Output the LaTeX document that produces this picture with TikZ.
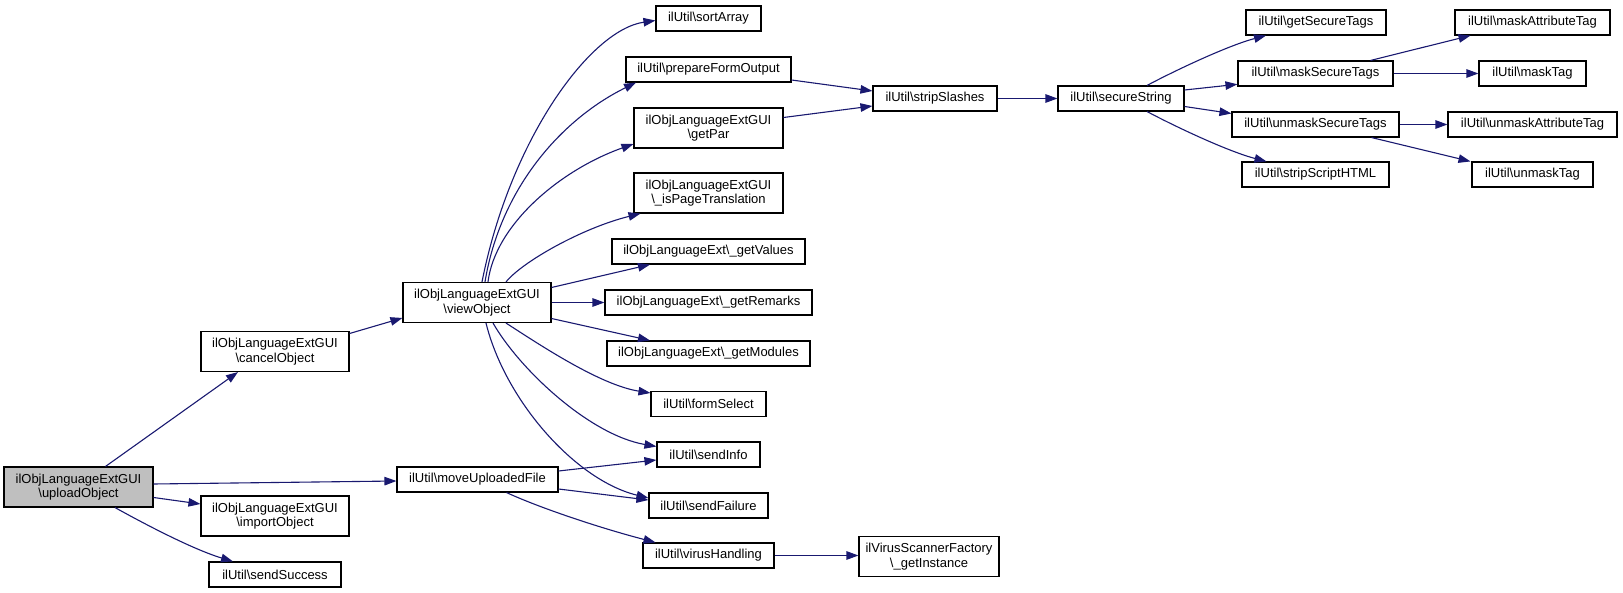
\documentclass[tikz,border=0pt]{standalone}
\usepackage{fontspec}
\setmainfont{Liberation Sans}
\usetikzlibrary{arrows.meta}
\definecolor{edgeblue}{HTML}{191970}
\definecolor{rootgray}{HTML}{BFBFBF}
\tikzset{
  fn/.style={draw=black, line width=1.1pt, fill=white, inner sep=0pt, align=center,
    font=\fontsize{13pt}{14.5pt}\selectfont, anchor=center},
  edge/.style={draw=edgeblue, line width=1.1pt, -{Triangle[length=12pt,width=8.5pt]}},
}
\newcommand{\bs}{\textbackslash}
\begin{document}
\begin{tikzpicture}[x=1pt,y=-1pt]
\useasboundingbox (0,0) rectangle (1623,593);
% nodes
\node[fn, fill=rootgray, minimum width=149pt, minimum height=40pt] (upload) at (78.5,487) {ilObjLanguageExtGUI\\\bs uploadObject};
\node[fn, minimum width=148pt, minimum height=40pt] (cancel) at (275,351.5) {ilObjLanguageExtGUI\\\bs cancelObject};
\node[fn, minimum width=148pt, minimum height=40pt] (view) at (477,302.5) {ilObjLanguageExtGUI\\\bs viewObject};
\node[fn, minimum width=161pt, minimum height=25pt] (move) at (477.5,479.5) {ilUtil\bs moveUploadedFile};
\node[fn, minimum width=148pt, minimum height=40pt] (import) at (275,516) {ilObjLanguageExtGUI\\\bs importObject};
\node[fn, minimum width=132pt, minimum height=25pt] (success) at (275,574.5) {ilUtil\bs sendSuccess};
\node[fn, minimum width=105pt, minimum height=25pt] (sort) at (708.5,18.5) {ilUtil\bs sortArray};
\node[fn, minimum width=165pt, minimum height=25pt] (prepare) at (708.5,69.5) {ilUtil\bs prepareFormOutput};
\node[fn, minimum width=149pt, minimum height=40pt] (getpar) at (708.5,128) {ilObjLanguageExtGUI\\\bs getPar};
\node[fn, minimum width=149pt, minimum height=40pt] (ispage) at (708.5,193) {ilObjLanguageExtGUI\\\bs \_isPageTranslation};
\node[fn, minimum width=193pt, minimum height=25pt] (values) at (708.5,251.5) {ilObjLanguageExt\bs \_getValues};
\node[fn, minimum width=207pt, minimum height=25pt] (remarks) at (708.5,302.5) {ilObjLanguageExt\bs \_getRemarks};
\node[fn, minimum width=203pt, minimum height=25pt] (modules) at (708.5,353.5) {ilObjLanguageExt\bs \_getModules};
\node[fn, minimum width=115pt, minimum height=25pt] (form) at (708.5,404) {ilUtil\bs formSelect};
\node[fn, minimum width=103pt, minimum height=25pt] (info) at (708.5,454.5) {ilUtil\bs sendInfo};
\node[fn, minimum width=119pt, minimum height=25pt] (failure) at (708.5,505.5) {ilUtil\bs sendFailure};
\node[fn, minimum width=131pt, minimum height=25pt] (virus) at (708.5,555.5) {ilUtil\bs virusHandling};
\node[fn, minimum width=140pt, minimum height=40pt] (instance) at (929,556.5) {ilVirusScannerFactory\\\bs \_getInstance};
\node[fn, minimum width=124pt, minimum height=25pt] (strip) at (935,98.5) {ilUtil\bs stripSlashes};
\node[fn, minimum width=126pt, minimum height=25pt] (secure) at (1121,98.5) {ilUtil\bs secureString};
\node[fn, minimum width=140pt, minimum height=25pt] (getsec) at (1316,22.5) {ilUtil\bs getSecureTags};
\node[fn, minimum width=155pt, minimum height=25pt] (masksec) at (1315.5,73.5) {ilUtil\bs maskSecureTags};
\node[fn, minimum width=167pt, minimum height=25pt] (unmasksec) at (1315.5,124.5) {ilUtil\bs unmaskSecureTags};
\node[fn, minimum width=147pt, minimum height=25pt] (script) at (1315.5,174.5) {ilUtil\bs stripScriptHTML};
\node[fn, minimum width=155pt, minimum height=25pt] (maskattr) at (1532.5,22.5) {ilUtil\bs maskAttributeTag};
\node[fn, minimum width=107pt, minimum height=25pt] (masktag) at (1532.5,73.5) {ilUtil\bs maskTag};
\node[fn, minimum width=169pt, minimum height=25pt] (unmaskattr) at (1532.5,124.5) {ilUtil\bs unmaskAttributeTag};
\node[fn, minimum width=121pt, minimum height=25pt] (unmasktag) at (1532.5,174.5) {ilUtil\bs unmaskTag};
% edges from uploadObject
\draw[edge] ([xshift=27pt]upload.north) -- ([xshift=-37pt]cancel.south);
\draw[edge] ([yshift=3pt]upload.east) -- ([yshift=-1.5pt]move.west);
\draw[edge] ([yshift=-10.5pt]upload.east) -- ([yshift=12pt]import.west);
\draw[edge] ([xshift=36.5pt]upload.south) .. controls (150,527) and (195,550) .. ([xshift=-42pt]success.north);
% cancel -> view
\draw[edge] ([yshift=18pt]cancel.east) -- ([yshift=-15.5pt]view.west);
% view -> ...
\draw[edge] ([xshift=5pt]view.north) .. controls (510,140) and (590,30) .. ([yshift=-2pt]sort.west);
\draw[edge] ([xshift=8pt]view.north) .. controls (500,190) and (560,120) .. ([xshift=-72.5pt]prepare.south);
\draw[edge] ([xshift=11pt]view.north) .. controls (495,225) and (560,170) .. ([yshift=-16pt]getpar.west);
\draw[edge] ([xshift=29pt]view.north) .. controls (522,262) and (582,228) .. ([xshift=-68pt]ispage.south);
\draw[edge] ([yshift=15pt]view.east) -- ([xshift=-58.5pt]values.south);
\draw[edge] (view.east) -- (remarks.west);
\draw[edge] ([yshift=-16pt]view.east) -- ([xshift=-58.5pt]modules.north);
\draw[edge] ([xshift=29pt]view.south) .. controls (540,345) and (600,385) .. ([yshift=11pt]form.west);
\draw[edge] ([xshift=16pt]view.south) .. controls (520,370) and (590,435) .. ([yshift=8pt]info.west);
\draw[edge] ([xshift=9pt]view.south) .. controls (505,400) and (575,480) .. ([yshift=7.5pt]failure.west);
% move -> ...
\draw[edge] ([yshift=8.5pt]move.east) -- ([yshift=-5.5pt]info.west);
\draw[edge] ([yshift=-9.5pt]move.east) -- ([yshift=5.5pt]failure.west);
\draw[edge] ([xshift=29pt]move.south) .. controls (540,508) and (600,528) .. ([xshift=-53pt]virus.north);
\draw[edge] (virus.east) -- (virus.east -| instance.west);
% strip slashes
\draw[edge] ([yshift=-10.5pt]prepare.east) -- ([yshift=7.5pt]strip.west);
\draw[edge] ([yshift=10.5pt]getpar.east) -- ([yshift=-7.5pt]strip.west);
\draw[edge] (strip.east) -- (secure.west);
% secure string
\draw[edge] ([xshift=26pt]secure.north) .. controls (1180,68) and (1230,45) .. ([xshift=-50pt]getsec.south);
\draw[edge] ([yshift=8.5pt]secure.east) -- ([yshift=-10.8pt]masksec.west);
\draw[edge] ([yshift=-8pt]secure.east) -- ([yshift=11pt]unmasksec.west);
\draw[edge] ([xshift=26pt]secure.south) .. controls (1180,129) and (1230,152) .. ([xshift=-49pt]script.north);
% mask / unmask
\draw[edge] ([xshift=55pt]masksec.north) -- ([xshift=-62pt]maskattr.south);
\draw[edge] (masksec.east) -- (masksec.east -| masktag.west);
\draw[edge] (unmasksec.east) -- (unmasksec.east -| unmaskattr.west);
\draw[edge] ([xshift=56pt]unmasksec.south) -- ([xshift=-62pt]unmasktag.north);
\end{tikzpicture}
\end{document}
